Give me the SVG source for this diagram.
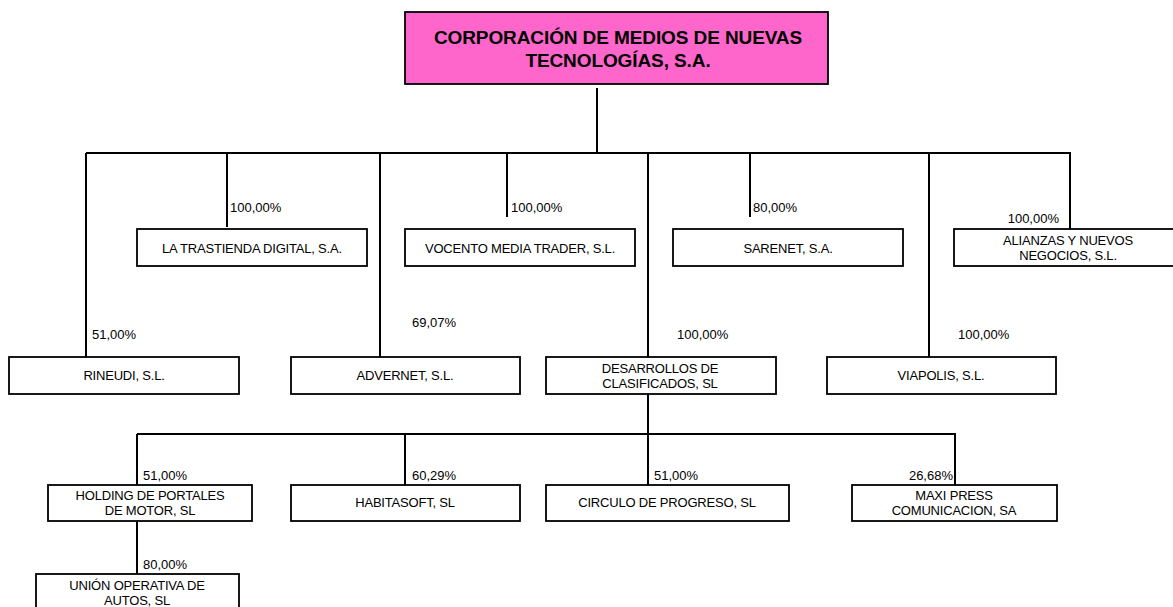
<svg xmlns="http://www.w3.org/2000/svg" width="1173" height="607" viewBox="0 0 1173 607">
<style>
.bg{fill:#ffffff}
.box{fill:#ffffff;stroke:#000000;stroke-width:1.8}
.top{fill:#ff66cc;stroke:#000000;stroke-width:1.8}
.ln{stroke:#000000;stroke-width:2;fill:none}
.t{font-family:"Liberation Sans",Arial,Helvetica,sans-serif;font-size:13px;fill:#000000;text-anchor:middle;letter-spacing:-0.2px}
.tt{font-family:"Liberation Sans",Arial,Helvetica,sans-serif;font-size:19px;font-weight:bold;fill:#000000;text-anchor:middle;letter-spacing:-0.1px}
.p{font-family:"Liberation Sans",Arial,Helvetica,sans-serif;font-size:13px;fill:#000000}
.pe{font-family:"Liberation Sans",Arial,Helvetica,sans-serif;font-size:13px;fill:#000000;text-anchor:end}
</style>
<rect class="bg" x="0" y="0" width="1173" height="607"/>
<g id="connectors">
<line class="ln" x1="597" y1="88" x2="597" y2="153"/>
<line class="ln" x1="86" y1="153" x2="1071" y2="153"/>
<line class="ln" x1="86" y1="153" x2="86" y2="357"/>
<line class="ln" x1="227" y1="153" x2="227" y2="227"/>
<line class="ln" x1="380" y1="153" x2="380" y2="357"/>
<line class="ln" x1="507" y1="153" x2="507" y2="217"/>
<line class="ln" x1="648" y1="153" x2="648" y2="357"/>
<line class="ln" x1="750" y1="153" x2="750" y2="217"/>
<line class="ln" x1="929" y1="153" x2="929" y2="357"/>
<line class="ln" x1="1070" y1="153" x2="1070" y2="229"/>
<line class="ln" x1="648" y1="394" x2="648" y2="485"/>
<line class="ln" x1="137" y1="434" x2="956" y2="434"/>
<line class="ln" x1="137" y1="434" x2="137" y2="485"/>
<line class="ln" x1="405" y1="434" x2="405" y2="485"/>
<line class="ln" x1="955" y1="434" x2="955" y2="485"/>
<line class="ln" x1="137" y1="521" x2="137" y2="574"/>
<text class="p" x="230" y="212">100,00%</text>
<text class="p" x="511" y="212">100,00%</text>
<text class="p" x="753" y="212">80,00%</text>
<text class="pe" x="1059" y="223">100,00%</text>
<text class="p" x="92" y="339">51,00%</text>
<text class="p" x="412" y="327">69,07%</text>
<text class="p" x="677" y="339">100,00%</text>
<text class="p" x="958" y="339">100,00%</text>
<text class="p" x="143" y="480">51,00%</text>
<text class="p" x="412" y="480">60,29%</text>
<text class="p" x="654" y="480">51,00%</text>
<text class="pe" x="953" y="480">26,68%</text>
<text class="p" x="143" y="569">80,00%</text>
</g>
<g id="corporacion">
<rect class="top" x="405" y="12" width="423" height="72"/>
<text class="tt" x="618" y="44">CORPORACIÓN DE MEDIOS DE NUEVAS</text>
<text class="tt" x="618" y="66.5">TECNOLOGÍAS, S.A.</text>
</g>
<g id="la-trastienda">
<rect class="box" x="137" y="229" width="230" height="37"/>
<text class="t" x="252" y="252.5">LA TRASTIENDA DIGITAL, S.A.</text>
</g>
<g id="vocento">
<rect class="box" x="405" y="229" width="230" height="37"/>
<text class="t" x="520" y="252.5">VOCENTO MEDIA TRADER, S.L.</text>
</g>
<g id="sarenet">
<rect class="box" x="673" y="229" width="230" height="37"/>
<text class="t" x="788" y="252.5">SARENET, S.A.</text>
</g>
<g id="alianzas">
<rect class="box" x="954" y="229" width="230" height="37"/>
<text class="t" x="1068" y="245">ALIANZAS Y NUEVOS</text>
<text class="t" x="1068" y="260">NEGOCIOS, S.L.</text>
</g>
<g id="rineudi">
<rect class="box" x="9" y="357" width="230" height="37"/>
<text class="t" x="124" y="380">RINEUDI, S.L.</text>
</g>
<g id="advernet">
<rect class="box" x="291" y="357" width="229" height="37"/>
<text class="t" x="405" y="380">ADVERNET, S.L.</text>
</g>
<g id="desarrollos">
<rect class="box" x="546" y="357" width="230" height="37"/>
<text class="t" x="660" y="372.5">DESARROLLOS DE</text>
<text class="t" x="660" y="388">CLASIFICADOS, SL</text>
</g>
<g id="viapolis">
<rect class="box" x="827" y="357" width="229" height="37"/>
<text class="t" x="941" y="380">VIAPOLIS, S.L.</text>
</g>
<g id="holding">
<rect class="box" x="48" y="485" width="204" height="36"/>
<text class="t" x="150" y="500">HOLDING DE PORTALES</text>
<text class="t" x="150" y="515">DE MOTOR, SL</text>
</g>
<g id="habitasoft">
<rect class="box" x="291" y="485" width="229" height="36"/>
<text class="t" x="405" y="507">HABITASOFT, SL</text>
</g>
<g id="circulo">
<rect class="box" x="546" y="485" width="243" height="36"/>
<text class="t" x="667" y="507">CIRCULO DE PROGRESO, SL</text>
</g>
<g id="maxipress">
<rect class="box" x="852" y="485" width="205" height="36"/>
<text class="t" x="954" y="500">MAXI PRESS</text>
<text class="t" x="954" y="515">COMUNICACION, SA</text>
</g>
<g id="union">
<rect class="box" x="36" y="574" width="203" height="37"/>
<text class="t" x="137" y="590">UNIÓN OPERATIVA DE</text>
<text class="t" x="137" y="604.5">AUTOS, SL</text>
</g>
</svg>
